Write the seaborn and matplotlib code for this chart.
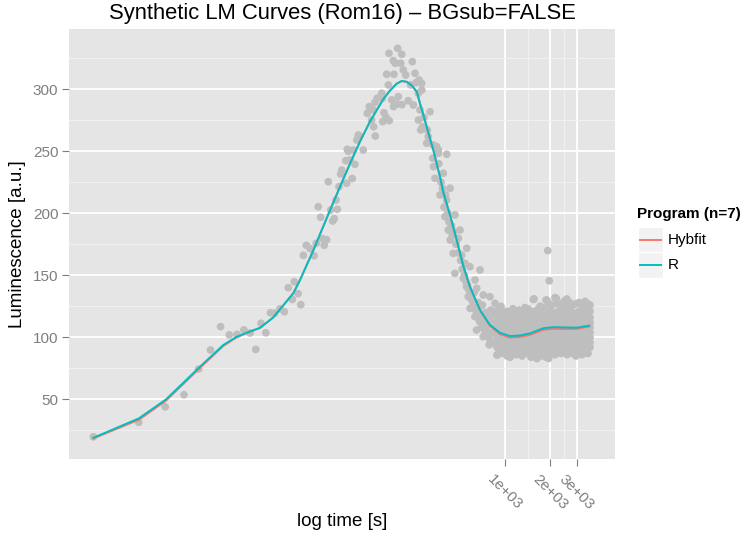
import numpy as np
import pandas as pd
import matplotlib
matplotlib.use("Agg")
import matplotlib.pyplot as plt
import seaborn as sns
from matplotlib.ticker import FixedLocator, FixedFormatter, NullFormatter
from matplotlib.patches import Rectangle
from matplotlib.lines import Line2D

# ---------------- data ----------------
# scattered measurement points: log10(time [s]) and luminescence
pts_logt = [0.265, 0.566, 0.742, 0.867, 0.964, 1.043, 1.110, 1.168, 1.219, 1.265,
            1.306, 1.344, 1.379, 1.411, 1.441, 1.469, 1.505, 1.534, 1.560, 1.587,
            1.600, 1.625, 1.643, 1.660, 1.680, 1.706, 1.731, 1.746, 1.759, 1.775,
            1.789, 1.799, 1.815, 1.826, 1.842, 1.855, 1.866, 1.877, 1.886, 1.897,
            1.908, 1.915, 1.942, 1.948, 1.952, 1.959, 1.970, 1.985, 1.992, 2.003,
            2.015, 2.025, 2.032, 2.058, 2.085, 2.098, 2.114, 2.125, 2.127, 2.136,
            2.138, 2.151, 2.181, 2.185, 2.187, 2.196, 2.209, 2.214, 2.225, 2.229,
            2.231, 2.247, 2.258, 2.259, 2.262, 2.271, 2.284, 2.287, 2.291, 2.307,
            2.314, 2.315, 2.324, 2.340, 2.357, 2.373, 2.384, 2.391, 2.402, 2.409,
            2.424, 2.425, 2.429, 2.435, 2.440, 2.447, 2.446, 2.453, 2.462, 2.480,
            2.484, 2.490, 2.502, 2.520, 2.524, 2.525, 2.535, 2.546, 2.557, 2.558,
            2.568, 2.590, 2.601, 2.613, 2.612, 2.623, 2.635, 2.636, 2.656, 2.668,
            2.667, 2.690, 2.701, 2.712, 2.723, 2.734, 2.746, 2.745, 2.756, 2.767,
            2.768, 2.801, 2.800, 2.812, 2.811, 2.834, 2.835, 2.833, 2.856, 2.855,
            2.878, 2.900, 2.901, 2.922, 2.934, 2.945, 2.946]
pts_lum = [19.8, 31.5, 44.0, 53.7, 74.4, 89.8, 108.6, 102.0, 102.4, 106.0,
           103.5, 90.3, 111.3, 103.7, 119.8, 119.5, 123.0, 120.6, 140.0, 130.6,
           144.8, 135.2, 126.3, 166.1, 174.2, 171.5, 165.8, 175.8, 205.3, 196.8,
           179.5, 174.2, 178.7, 225.5, 202.7, 193.8, 195.7, 210.7, 203.2, 221.5,
           231.7, 234.9, 242.4, 224.2, 251.6, 250.0, 243.0, 228.0, 251.0, 239.5,
           259.1, 263.1, 262.3, 251.0, 280.6, 286.0, 275.2, 283.3, 269.8, 289.5,
           262.3, 292.7, 296.8, 292.7, 273.9, 281.1, 277.4, 312.1, 303.5, 329.0,
           274.7, 291.4, 323.1, 286.0, 312.1, 321.0, 288.1, 333.0, 294.0, 321.0,
           328.2, 287.6, 315.6, 311.5, 290.8, 303.5, 322.3, 287.3, 312.9, 305.3,
           296.8, 275.2, 307.5, 283.3, 267.2, 299.4, 304.8, 269.8, 277.4, 256.5,
           267.2, 261.8, 281.9, 244.4, 255.1, 237.6, 228.2, 253.7, 251.0, 248.4,
           214.8, 232.3, 197.3, 247.6, 210.7, 186.5, 220.2, 178.5, 167.7, 198.7,
           151.6, 179.8, 186.5, 166.4, 147.6, 159.7, 171.8, 140.8, 132.8, 157.0,
           123.4, 146.2, 116.7, 139.5, 105.9, 154.3, 124.8, 112.6, 134.1, 100.5,
           108.6, 132.8, 97.8, 103.2, 127.4, 92.4, 85.7]

# denser points along the falling flank
flank_logt = [2.560, 2.575, 2.585, 2.595, 2.605, 2.620, 2.628, 2.645, 2.650, 2.660,
              2.675, 2.690, 2.705, 2.715, 2.730, 2.740, 2.752, 2.760, 2.772, 2.780,
              2.790, 2.795, 2.805, 2.815, 2.822, 2.828, 2.840, 2.845, 2.850, 2.862,
              2.868, 2.872, 2.885, 2.890, 2.895, 2.905, 2.910, 2.915, 2.925, 2.930,
              2.940, 2.950, 2.955, 2.960]
flank_lum = [240, 225, 220, 205, 215, 200, 193, 190, 182, 185,
             175, 168, 162, 155, 150, 145, 142, 138, 134, 130,
             127, 136, 122, 118, 128, 114, 117, 108, 126, 113,
             104, 120, 101, 116, 94, 122, 104, 112, 96, 118,
             108, 100, 122, 90]

# dense background tail: one column of values per log10(time)
tail_logt = [2.9535, 2.9734, 2.9934, 3.0133, 3.0332, 3.0532, 3.0731, 3.0930,
             3.1130, 3.1329, 3.1528, 3.1728, 3.1927, 3.2126, 3.2326, 3.2525,
             3.2724, 3.2924, 3.3123, 3.3322, 3.3522, 3.3721, 3.3920, 3.4120,
             3.4319, 3.4518, 3.4718, 3.4917, 3.5116, 3.5316, 3.5515, 3.5648]
tail_lum = [
    [86, 92, 97, 101, 105, 109, 113, 118, 122],
    [89, 94, 99, 103, 107, 111, 116, 121, 125],
    [87, 91, 96, 100, 104, 108, 112, 117, 120],
    [85, 90, 95, 99, 103, 107, 111, 115, 121],
    [84, 89, 94, 98, 102, 106, 110, 114, 119],
    [88, 92, 96, 100, 104, 108, 112, 117, 123],
    [86, 91, 95, 99, 103, 107, 111, 116, 120],
    [89, 93, 97, 101, 105, 109, 113, 118, 122],
    [85, 90, 95, 100, 104, 108, 112, 116, 121],
    [88, 92, 96, 100, 105, 109, 113, 117, 124],
    [87, 91, 96, 101, 105, 109, 114, 119, 123],
    [84, 89, 94, 99, 104, 108, 112, 117, 121],
    [86, 91, 96, 100, 105, 110, 115, 120, 131],
    [83, 88, 93, 98, 103, 107, 111, 116, 122],
    [87, 92, 97, 101, 106, 110, 114, 119, 125],
    [85, 90, 95, 100, 105, 109, 113, 118, 124],
    [84, 89, 94, 99, 104, 108, 113, 118, 130],
    [86, 91, 96, 101, 106, 110, 115, 121, 127],
    [88, 93, 97, 102, 106, 111, 116, 120, 126],
    [86, 91, 96, 100, 105, 110, 114, 119, 132],
    [89, 94, 98, 103, 107, 111, 116, 121, 127],
    [87, 92, 97, 101, 106, 110, 115, 120, 126],
    [88, 93, 98, 102, 107, 111, 116, 121, 129],
    [86, 91, 96, 101, 105, 110, 114, 119, 125],
    [89, 94, 98, 103, 107, 112, 116, 121, 128],
    [87, 92, 97, 101, 106, 110, 115, 120, 126],
    [85, 90, 95, 100, 105, 109, 114, 119, 127],
    [88, 93, 98, 102, 107, 111, 116, 121, 128],
    [86, 91, 96, 101, 105, 110, 114, 119, 126],
    [89, 94, 98, 103, 107, 112, 117, 122, 129],
    [87, 92, 97, 101, 106, 110, 115, 120, 127],
    [92, 96, 100, 104, 108, 112, 116, 121, 126],
]
outlier_logt = [3.284, 3.294, 3.188, 3.278, 3.340, 3.411, 3.212, 3.290, 3.033]
outlier_lum = [169.9, 145.6, 130.6, 130.0, 131.5, 130.9, 83.0, 83.0, 84.0]

# fitted curves
curve_logt = [0.2645, 0.568, 0.748, 0.973, 1.128, 1.217, 1.300, 1.372, 1.460, 1.593,
              1.638, 1.726, 1.815, 1.904, 1.970, 2.037, 2.103, 2.147, 2.191, 2.236,
              2.280, 2.314, 2.347, 2.381, 2.414, 2.435, 2.468, 2.502, 2.524, 2.546,
              2.568, 2.590, 2.635, 2.679, 2.723, 2.767, 2.834, 2.900, 2.967, 3.033,
              3.100, 3.166, 3.254, 3.320, 3.387, 3.476, 3.560]
r_lum = [19.0, 34.7, 50.0, 76.3, 93.8, 100.5, 104.5, 107.7, 116.0, 135.5,
         146.2, 170.0, 196.0, 221.5, 240.0, 258.0, 274.0, 283.0, 292.0, 299.0,
         304.5, 306.7, 306.0, 303.0, 298.0, 288.7, 275.0, 260.0, 251.0, 240.0,
         229.5, 217.0, 198.5, 178.5, 157.5, 140.8, 122.0, 110.0, 103.7, 101.0,
         101.5, 103.2, 107.3, 108.2, 108.0, 107.8, 109.4]
hybfit_lum = [18.5, 33.6, 49.0, 75.3, 93.0, 100.0, 104.2, 107.5, 116.0, 135.5,
              146.2, 170.0, 196.0, 221.5, 240.0, 258.0, 274.0, 283.0, 292.0, 299.0,
              304.5, 306.7, 306.0, 303.0, 298.0, 288.7, 275.0, 260.0, 251.0, 240.0,
              229.5, 217.0, 198.5, 178.5, 157.5, 140.8, 121.8, 109.3, 102.6, 99.8,
              100.3, 102.0, 106.0, 106.9, 106.8, 106.8, 108.8]

programs = ["Hybfit", "R"]
program_colors = ["#F8766D", "#00BFC4"]
x_ticks = [1000, 2000, 3000]
x_ticklabels = ["1e+03", "2e+03", "3e+03"]
x_minor = [1414.2, 2449.5]
y_ticks = [50, 100, 150, 200, 250, 300]
y_minor = [25, 75, 125, 175, 225, 275, 325]

# ---------------- build tables ----------------
all_logt = list(pts_logt) + list(flank_logt) + list(outlier_logt)
all_lum = list(pts_lum) + list(flank_lum) + list(outlier_lum)
for lt, col in zip(tail_logt, tail_lum):
    for v in col:
        all_logt.append(lt)
        all_lum.append(v)
df_pts = pd.DataFrame({"time": np.power(10.0, all_logt), "lum": all_lum})

df_lines = pd.concat([
    pd.DataFrame({"time": np.power(10.0, curve_logt), "lum": hybfit_lum, "Program": "Hybfit"}),
    pd.DataFrame({"time": np.power(10.0, curve_logt), "lum": r_lum, "Program": "R"}),
], ignore_index=True)

# ---------------- plot ----------------
plt.rcParams["font.family"] = ["Liberation Sans", "DejaVu Sans"]
W, H = 746, 539
fig = plt.figure(figsize=(W / 100, H / 100), dpi=100)
ax = fig.add_axes([69 / W, 1 - 459 / H, 546 / W, 430 / H])
ax.set_facecolor("#E5E5E5")

sns.scatterplot(data=df_pts, x="time", y="lum", color="#BEBEBE", s=31,
                linewidth=0, edgecolor="none", ax=ax, zorder=3)
sns.lineplot(data=df_lines, x="time", y="lum", hue="Program", hue_order=programs,
             palette=dict(zip(programs, program_colors)), estimator=None,
             linewidth=1.4, legend=False, ax=ax, zorder=4)

ax.set_xscale("log")
ax.set_xlim(10 ** 0.103, 10 ** 3.731)
ax.set_ylim(1.9, 348.6)

ax.xaxis.set_major_locator(FixedLocator(x_ticks))
ax.xaxis.set_major_formatter(FixedFormatter(x_ticklabels))
ax.xaxis.set_minor_locator(FixedLocator(x_minor))
ax.xaxis.set_minor_formatter(NullFormatter())
ax.yaxis.set_major_locator(FixedLocator(y_ticks))
ax.yaxis.set_minor_locator(FixedLocator(y_minor))
ax.yaxis.set_minor_formatter(NullFormatter())

ax.grid(which="major", color="white", linewidth=1.3)
ax.grid(which="minor", color="#F2F2F2", linewidth=0.65)
ax.set_axisbelow(True)
for sp in ax.spines.values():
    sp.set_visible(False)

ax.tick_params(which="major", length=4.7, width=0.8, color="#7F7F7F",
               labelcolor="#7F7F7F", labelsize=11, pad=3)
ax.tick_params(axis="x", which="major", pad=5)
ax.tick_params(which="minor", length=0)
for lab in ax.get_xticklabels():
    lab.set_rotation(-45)
    lab.set_ha("center")
    lab.set_va("top")

ax.set_xlabel("log time [s]", fontsize=13.5, color="black")
ax.set_ylabel("Luminescence [a.u.]", fontsize=13.5, color="black")
ax.xaxis.set_label_coords(0.5, -(522 - 459) / 430)
ax.xaxis.label.set_va("center")
ax.yaxis.set_label_coords(-(69 - 18) / 546, 0.5)
ax.yaxis.label.set_va("center")
ax.set_title("Synthetic LM Curves (Rom16) \u2013 BGsub=FALSE", fontsize=15.8,
             color="black", pad=7.5)

# ---------------- legend (ggplot style) ----------------
def fx(px):
    return px / W

def fy(py):
    return 1 - py / H

fig.text(fx(637), fy(218), "Program (n=7)", fontsize=11, fontweight="bold",
         ha="left", va="baseline")
key_top = [227.5, 252.5]
for name, col, top in zip(programs, program_colors, key_top):
    fig.add_artist(Rectangle((fx(638), fy(top + 25)), 24.5 / W, 25 / H,
                             transform=fig.transFigure, facecolor="#F2F2F2",
                             edgecolor="white", linewidth=1))
    yc = top + 12.5
    fig.add_artist(Line2D([fx(640), fx(661)], [fy(yc), fy(yc)],
                          transform=fig.transFigure, color=col, linewidth=1.4))
    fig.text(fx(668), fy(yc), name, fontsize=11, ha="left", va="center")

fig.savefig("out.png", dpi=100)
